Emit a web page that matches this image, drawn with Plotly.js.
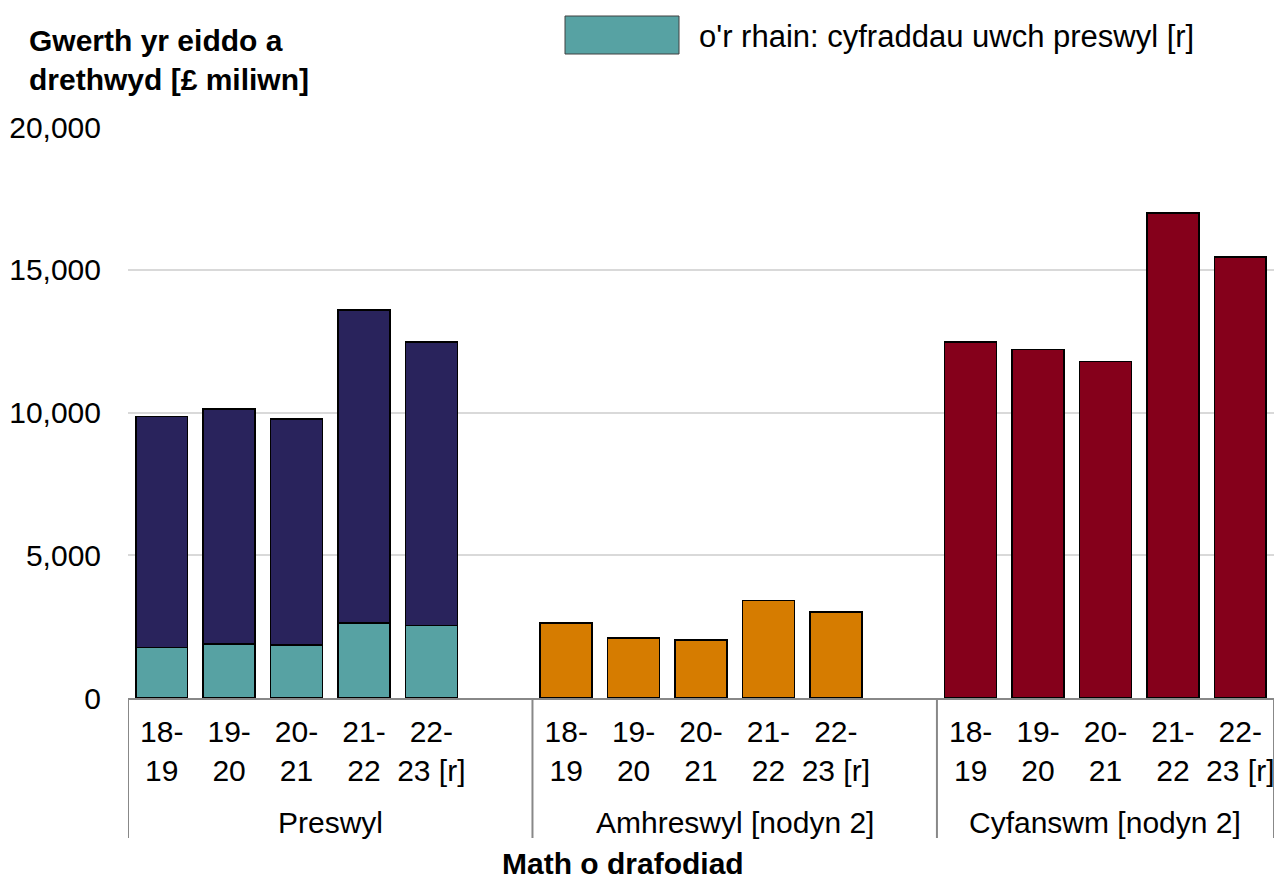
<!DOCTYPE html>
<html>
<head>
<meta charset="utf-8">
<script src="https://cdn.plot.ly/plotly-3.0.1.min.js"></script>
<style>html,body{margin:0;padding:0;background:#fff;}#chart{width:1274px;height:879px;}</style>
</head>
<body>
<div id="chart"></div>
<script>
// Data (£ million)
const groups = ["Preswyl", "Amhreswyl [nodyn 2]", "Cyfanswm [nodyn 2]"];
const years = ["18-<br>19", "19-<br>20", "20-<br>21", "21-<br>22", "22-<br>23 [r]"];
const preswylTotal = [9860, 10130, 9780, 13600, 12475];
const preswylHigherRates = [1770, 1900, 1865, 2620, 2540];
const amhreswyl = [2625, 2110, 2030, 3415, 3010];
const cyfanswm = [12480, 12210, 11790, 16980, 15450];
const legendLabel = "o'r rhain: cyfraddau uwch preswyl [r]";
const yTitle = "Gwerth yr eiddo a<br>drethwyd [£ miliwn]";
const xTitle = "Math o drafodiad";

const FONT = "Liberation Sans, Arial, sans-serif";

// Category slots: each group has its years plus one empty slot (except the last group)
const slotsPerGroup = years.length + 1;
const groupStart = groups.map((g, gi) => gi * slotsPerGroup);
const xs = gi => years.map((y, yi) => groupStart[gi] + yi);
const lastSlot = groupStart[groups.length - 1] + years.length - 1;
const xMin = -0.5, xMax = lastSlot + 0.5;
const groupEdges = groups.map((g, gi) => groupStart[gi] - 0.5).concat([xMax]);

const tickvals = [].concat(...groups.map((g, gi) => xs(gi)));
const ticktext = [].concat(...groups.map(() => years));

const line = {color: "#000000", width: 1.6};

const traces = [
  { type: "bar", name: legendLabel, x: xs(0), y: preswylHigherRates,
    marker: {color: "#57A2A3", line: line}, showlegend: false },
  { type: "bar", name: groups[0], x: xs(0), y: preswylTotal.map((v, i) => v - preswylHigherRates[i]),
    marker: {color: "#29235C", line: line}, showlegend: false },
  { type: "bar", name: groups[1], x: xs(1), y: amhreswyl,
    marker: {color: "#D67C00", line: line}, showlegend: false },
  { type: "bar", name: groups[2], x: xs(2), y: cyfanswm,
    marker: {color: "#85001B", line: line}, showlegend: false }
];

const L = 128, R = 0, T = 127, B = 181;
const W = 1274 - L - R, H = 879 - T - B;
const px = x => (x - L) / W;
const py = y => (879 - B - y) / H;

const shapes = [
  { type: "rect", xref: "paper", yref: "paper",
    x0: px(565), x1: px(679), y0: py(54), y1: py(16),
    fillcolor: "#57A2A3", line: {color: "#404040", width: 1} }
].concat(groupEdges.map(e => ({
  type: "line", xref: "x", yref: "paper", x0: e, x1: e, y0: 0, y1: py(838),
  line: {color: "#888888", width: 2}
})));

const annotations = [
  { text: legendLabel, xref: "paper", yref: "paper", x: px(697), y: py(36),
    xanchor: "left", yanchor: "middle", showarrow: false,
    font: {family: FONT, size: 31, color: "#000000"} },
  { text: "<b>" + yTitle.replace("<br>", "</b><br><b>") + "</b>", xref: "paper", yref: "paper",
    x: px(27), y: py(22), xanchor: "left", yanchor: "top", align: "left", showarrow: false,
    font: {family: FONT, size: 30, color: "#000000"} },
  { text: "<b>" + xTitle + "</b>", xref: "paper", yref: "paper",
    x: px(623), y: py(863), xanchor: "center", yanchor: "middle", showarrow: false,
    font: {family: FONT, size: 30, color: "#000000"} }
].concat(groups.map((g, gi) => ({
  text: g, xref: "x", yref: "paper",
  x: (groupEdges[gi] + groupEdges[gi + 1]) / 2, y: py(822),
  xanchor: "center", yanchor: "middle", showarrow: false,
  font: {family: FONT, size: 30, color: "#000000"}
})));

const layout = {
  width: 1274, height: 879,
  margin: {l: L, r: R, t: T, b: B, pad: 0},
  paper_bgcolor: "#ffffff", plot_bgcolor: "#ffffff",
  barmode: "stack", bargap: 0.23,
  font: {family: FONT, size: 30, color: "#000000"},
  showlegend: false,
  separators: ".,",
  xaxis: {
    range: [xMin, xMax], tickvals: tickvals, ticktext: ticktext, tickangle: 0,
    ticklabeloverflow: "allow",
    showline: true, linecolor: "#888888", linewidth: 2,
    showgrid: false, zeroline: false, ticks: "",
    ticklabelstandoff: 6,
    tickfont: {family: FONT, size: 30, color: "#000000"},
    fixedrange: true
  },
  yaxis: {
    range: [0, 20000], tickvals: [0, 5000, 10000, 15000, 20000],
    tickformat: ",d",
    showgrid: true, gridcolor: "#D9D9D9", gridwidth: 2,
    zeroline: false, showline: false, ticks: "",
    ticklabelstandoff: 26,
    tickfont: {family: FONT, size: 30, color: "#000000"},
    fixedrange: true
  },
  shapes: shapes,
  annotations: annotations
};

Plotly.newPlot("chart", traces, layout, {displayModeBar: false, staticPlot: true});
</script>
</body>
</html>
